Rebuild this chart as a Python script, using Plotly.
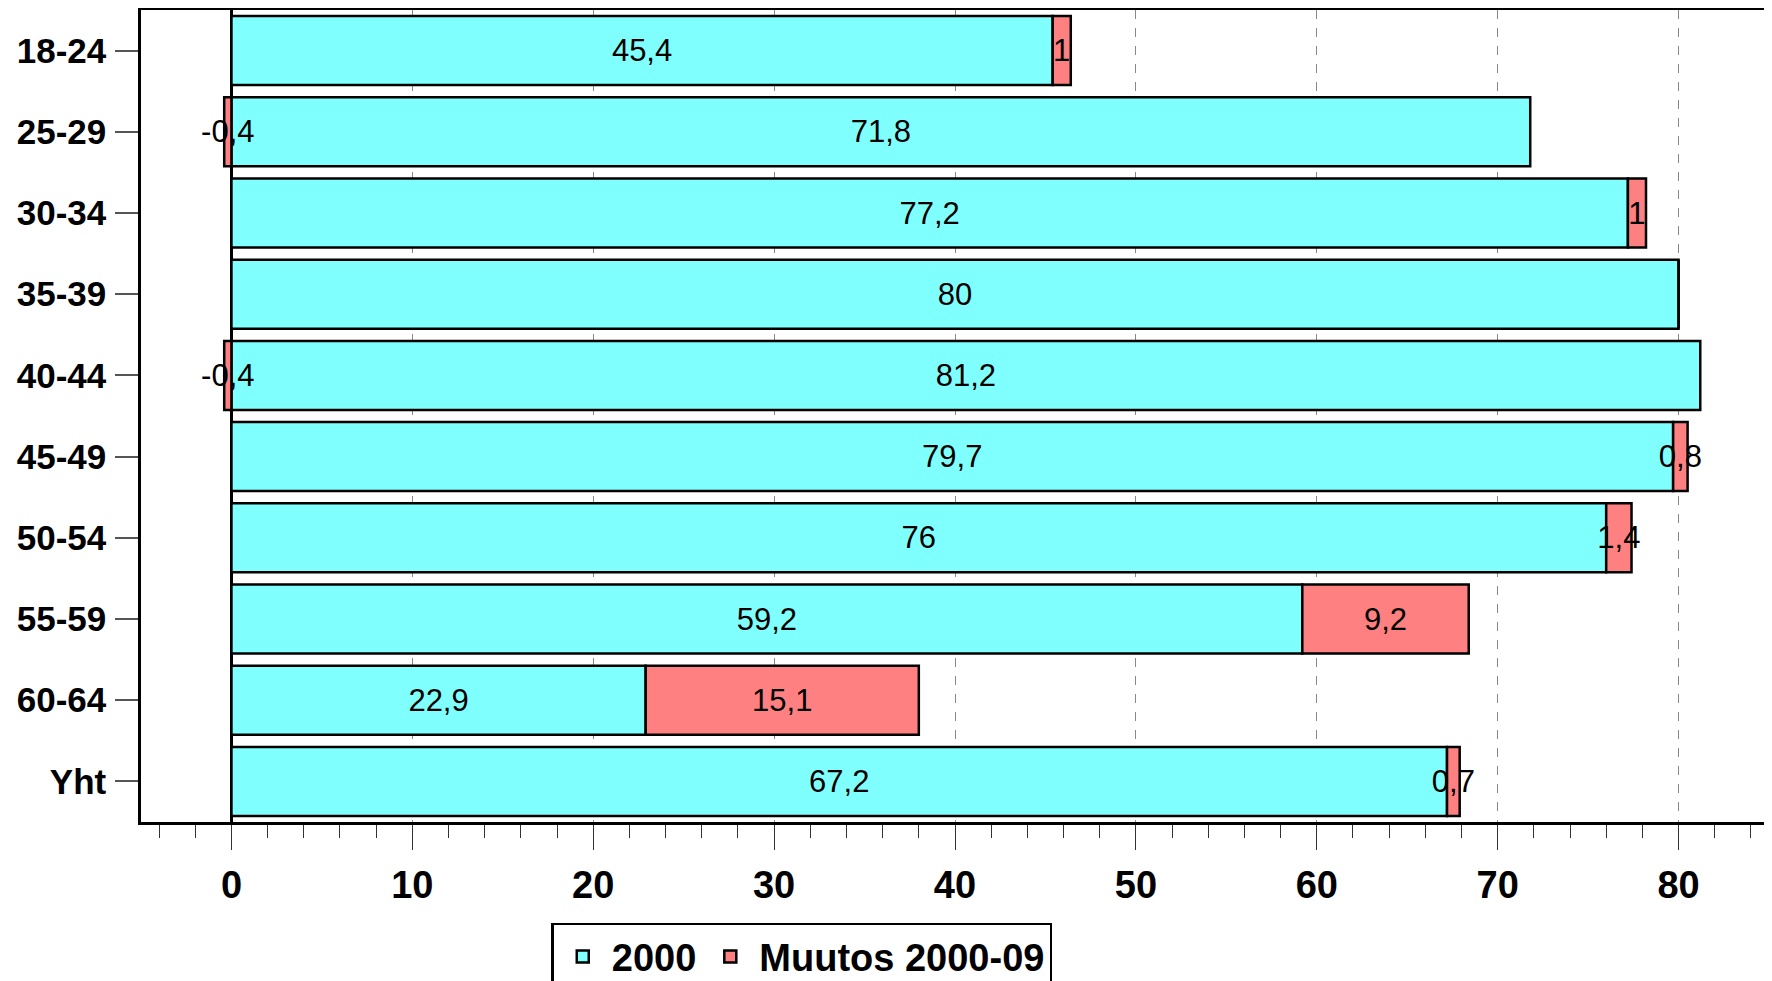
import plotly.graph_objects as go

# age groups, top to bottom
groups = ["18-24", "25-29", "30-34", "35-39", "40-44",
          "45-49", "50-54", "55-59", "60-64", "Yht"]
rate_2000 = [45.4, 71.8, 77.2, 80, 81.2, 79.7, 76, 59.2, 22.9, 67.2]
change_2000_09 = [1, -0.4, 1, 0, -0.4, 0.8, 1.4, 9.2, 15.1, 0.7]


def fi(v):
    # Finnish style decimals, blank for zero
    if v == 0:
        return ""
    s = ("%g" % v)
    return s.replace(".", ",")


bold = "Liberation Sans, Arial, sans-serif"
regular = "Liberation Sans, Arial, sans-serif"

fig = go.Figure()

fig.add_bar(
    name="2000",
    y=groups, x=rate_2000, orientation="h",
    text=[fi(v) for v in rate_2000],
    marker=dict(color="#80FFFF", line=dict(color="black", width=2.5)),
)
fig.add_bar(
    name="Muutos 2000-09",
    y=groups, x=change_2000_09, orientation="h",
    text=[fi(v) for v in change_2000_09],
    marker=dict(color="#FF8080", line=dict(color="black", width=2.5)),
)

fig.update_traces(
    textposition="inside",
    insidetextanchor="middle",
    constraintext="none",
    textangle=0,
    textfont=dict(family=regular, size=31, color="black"),
    cliponaxis=False,
)

# page body has an 8px margin, so the figure is a bit smaller than the window
fig.update_layout(
    width=1764, height=973,
    barmode="relative",
    bargap=0.15,
    plot_bgcolor="white",
    paper_bgcolor="white",
    margin=dict(l=133, r=3, t=2, b=159, autoexpand=False),
    showlegend=True,
    legend=dict(
        orientation="h",
        x=0.252, xanchor="left",
        y=-0.124, yanchor="top",
        bordercolor="black", borderwidth=2.5,
        font=dict(family=bold, size=38, color="black", weight="bold"),
        traceorder="normal",
        itemwidth=48,
    ),
)

fig.update_xaxes(
    range=[-5, 85],
    dtick=10, tick0=0,
    automargin=False,
    ticks="outside", ticklen=25, tickwidth=1, tickcolor="#333333",
    tickfont=dict(family=bold, size=38, color="black", weight="bold"),
    ticklabelstandoff=3,
    showgrid=True, gridcolor="#888888", griddash="dash", gridwidth=1,
    zeroline=True, zerolinecolor="black", zerolinewidth=2.5,
    showline=True, linecolor="black", linewidth=2.5, mirror=True,
    minor=dict(dtick=2, tick0=0, ticks="outside", ticklen=13,
               tickcolor="#333333", tickwidth=1, showgrid=False),
)

fig.update_yaxes(
    type="category",
    autorange="reversed",
    automargin=False,
    ticks="outside", ticklen=23, tickwidth=1.5, tickcolor="#555555",
    tickfont=dict(family=bold, size=35, color="black", weight="bold"),
    ticklabelstandoff=2,
    showgrid=False,
    showline=True, linecolor="black", linewidth=2.5, mirror=True,
)

fig.write_html("out.html")
